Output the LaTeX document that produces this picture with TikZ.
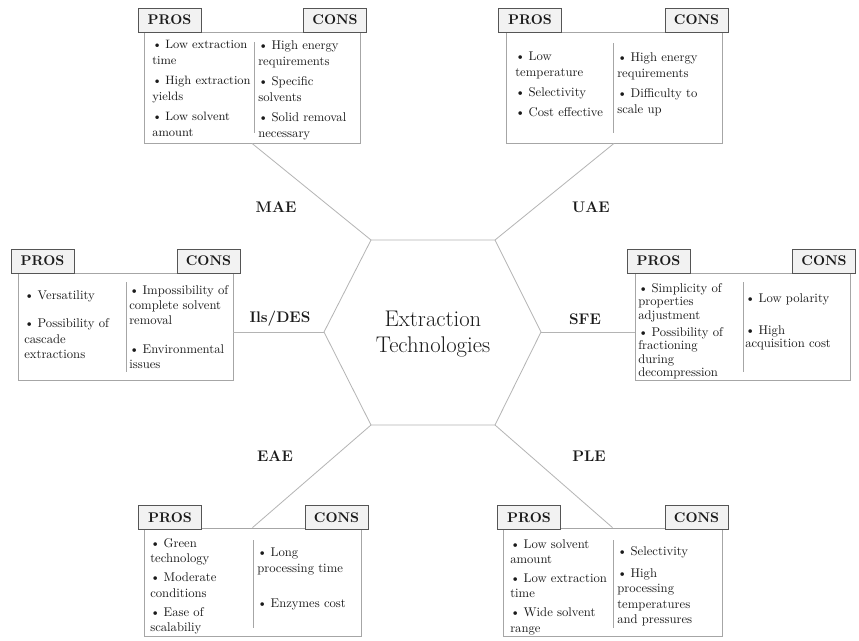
\documentclass[tikz,border=0pt]{standalone}
\usetikzlibrary{fit,calc}
\definecolor{tagborder}{HTML}{555555}
\definecolor{tagfill}{HTML}{F2F2F2}
\definecolor{boxline}{HTML}{A6A6A6}
\definecolor{linkline}{HTML}{B4B4B4}
\definecolor{txt}{HTML}{1A1A1A}
\tikzset{
  tag/.style={draw=tagborder, fill=tagfill, line width=0.7pt, minimum width=47.25pt, minimum height=18pt, inner sep=0pt, font=\fontsize{10.5}{12}\selectfont\bfseries, text=txt},
  cbox/.style={draw=boxline, line width=0.6pt, inner sep=0pt},
  col/.style={anchor=north west, inner sep=0pt, align=left, text=txt},
  link/.style={draw=linkline, line width=0.6pt},
  divider/.style={draw=boxline, line width=0.5pt},
  tech/.style={font=\fontsize{11.5}{13}\selectfont\bfseries, text=txt},
  colstd/.style={col, font=\fontsize{9.5}{12}\selectfont},
  colnarrow/.style={col, font=\fontsize{9.1}{12}\selectfont},
  colmid/.style={col, font=\fontsize{9.5}{11.6}\selectfont},
  colils/.style={col, font=\fontsize{9.5}{11.5}\selectfont},
  colsfe/.style={col, font=\fontsize{9.5}{10.1}\selectfont}
}
\newcommand{\bu}{\textbullet\hspace{0.28em}}
\begin{document}
\begin{tikzpicture}[x=0.75pt,y=-0.75pt]
\useasboundingbox (0,0) rectangle (859,640);
\fill[white] (0,0) rectangle (859,640);

% hexagon
\coordinate (v1) at (371,240);
\coordinate (v2) at (495,240);
\coordinate (v3) at (541,332);
\coordinate (v4) at (495,425);
\coordinate (v5) at (371,425);
\coordinate (v6) at (324,332);
\draw[link] (v1) -- (v2) -- (v3) -- (v4) -- (v5) -- (v6) -- cycle;
\node[font=\fontsize{17}{19.5}\selectfont, align=center, text=txt] (hub) at (433,334) {Extraction\\Technologies};

% content boxes
\node[cbox, fit={(144,32) (360,143)}] (maebox) {};
\node[cbox, fit={(506,32) (722,143)}] (uaebox) {};
\node[cbox, fit={(18,273) (233,380)}] (ilsbox) {};
\node[cbox, fit={(635,273) (850,380)}] (sfebox) {};
\node[cbox, fit={(144,528) (361,636)}] (eaebox) {};
\node[cbox, fit={(503,528) (722,636)}] (plebox) {};

% connectors
\draw[link] (v1) -- (maebox.south);
\draw[link] (v2) -- (uaebox.south);
\draw[link] (v3) -- (v3 -| sfebox.west);
\draw[link] (v4) -- (plebox.north);
\draw[link] (v5) -- (eaebox.north);
\draw[link] (v6) -- (v6 -| ilsbox.east);

% technology labels
\node[tech] (mae) at (276,207) {MAE};
\node[tech] (uae) at (591,207) {UAE};
\node[tech] (ils) at (280,319) {Ils/DES};
\node[tech] (sfe) at (585,319) {SFE};
\node[tech] (eae) at (275,456) {EAE};
\node[tech] (ple) at (589,456) {PLE};

% tags
\node[tag] (maepros) at (169.5,20) {PROS};
\node[tag] (maecons) at (335,20) {CONS};
\node[tag] (uaepros) at (530,20) {PROS};
\node[tag] (uaecons) at (696.5,20) {CONS};
\node[tag] (ilspros) at (42.5,261) {PROS};
\node[tag] (ilscons) at (208.5,261) {CONS};
\node[tag] (sfepros) at (658.5,261) {PROS};
\node[tag] (sfecons) at (824,261) {CONS};
\node[tag] (eaepros) at (170,517.5) {PROS};
\node[tag] (eaecons) at (336.5,517.5) {CONS};
\node[tag] (plepros) at (529,517.5) {PROS};
\node[tag] (plecons) at (696.5,517.5) {CONS};

% dividers
\draw[divider] (254,42) -- (254,133);
\draw[divider] (613,43) -- (613,133);
\draw[divider] (126,282) -- (126,372);
\draw[divider] (743,282) -- (743,372);
\draw[divider] (253,540) -- (253,628);
\draw[divider] (613,540) -- (613,628);

% MAE texts
\node[colnarrow] (maeprostxt) at (152,40) {\bu Low extraction\\ time\\[3pt] \bu High extraction\\ yields\\[3pt] \bu Low solvent\\ amount};
\node[colstd] (maeconstxt) at (258,40) {\bu High energy\\ requirements\\[3pt] \bu Specific\\ solvents\\[3pt] \bu Solid removal\\ necessary};

% UAE texts
\node[colstd] (uaeprostxt) at (515,52) {\bu Low\\ temperature\\[3pt] \bu Selectivity\\[3pt] \bu Cost effective};
\node[colstd] (uaeconstxt) at (617,52) {\bu High energy\\ requirements\\[3pt] \bu Difficulty to\\ scale up};

% Ils/DES texts
\node[colils] (ilsprostxt) at (24,290) {\bu Versatility\\[10pt] \bu Possibility of\\ cascade\\ extractions};
\node[colils] (ilsconstxt) at (129,285) {\bu Impossibility of\\ complete solvent\\ removal\\[10pt] \bu Environmental\\ issues};

% SFE texts
\node[colsfe] (sfeprostxt) at (638,283) {\bu Simplicity of\\ properties\\ adjustment\\[2.6pt] \bu Possibility of\\ fractioning\\ during\\ decompression};
\node[colsfe] (sfeconstxt) at (745,293) {\bu Low polarity\\[14pt] \bu High\\ acquisition cost};

% EAE texts
\node[colmid] (eaeprostxt) at (150,538) {\bu Green\\ technology\\[2.6pt] \bu Moderate\\ conditions\\[2.6pt] \bu Ease of\\ scalabiliy};
\node[colmid] (eaeconstxt) at (257,548) {\bu Long\\ processing time\\[14.6pt] \bu Enzymes cost};

% PLE texts
\node[colmid] (pleprostxt) at (510,539) {\bu Low solvent\\ amount\\[2.6pt] \bu Low extraction\\ time\\[2.6pt] \bu Wide solvent\\ range};
\node[colmid] (pleconstxt) at (617,546) {\bu Selectivity\\[4.9pt] \bu High\\ processing\\ temperatures\\ and pressures};
\end{tikzpicture}
\end{document}
